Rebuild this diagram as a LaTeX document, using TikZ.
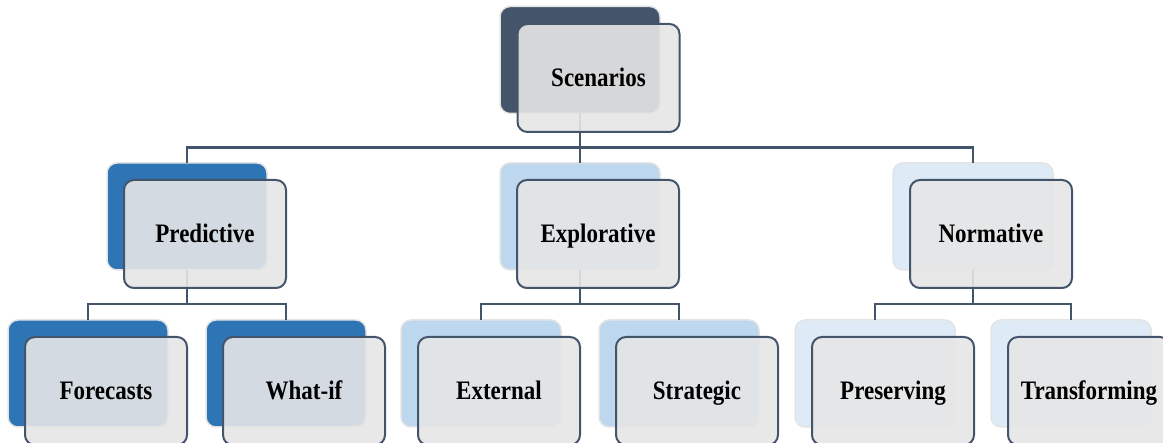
\documentclass[tikz,border=0pt]{standalone}
\usepackage{fontspec}
\setmainfont{Liberation Serif}
\definecolor{slate}{HTML}{44546A}
\definecolor{blueA}{HTML}{2E75B6}
\definecolor{blueB}{HTML}{BDD7EE}
\definecolor{blueC}{HTML}{DEEBF7}
\definecolor{frontgray}{HTML}{E6E6E6}
\definecolor{backedge}{HTML}{E4E4E4}
\newcommand{\boxlbl}[1]{\raisebox{-8.5pt}[0pt][0pt]{\scalebox{1}[1.16]{#1}}}
\begin{document}
\begin{tikzpicture}[x=1pt,y=-1pt,
  backbox/.style={rectangle, rounded corners=10pt, minimum width=160pt, minimum height=107pt,
    inner sep=0pt, outer sep=0pt, draw=backedge, line width=1.5pt, fill=#1},
  frontbox/.style={rectangle, rounded corners=10pt, minimum width=162pt, minimum height=108pt,
    inner sep=0pt, outer sep=0pt, draw=slate, line width=2pt, fill=frontgray, fill opacity=0.9,
    text opacity=1, font=\bfseries\fontsize{23}{27}\selectfont, align=center},
  conn/.style={draw=slate, line width=2.2pt}]
\useasboundingbox (0,0) rectangle (1163,443);
\clip (0,0) rectangle (1163,443);
% back boxes
\node[backbox=slate] (sB) at (580,60) {};
\node[backbox=blueA] (pB) at (187,216.5) {};
\node[backbox=blueB] (eB) at (580,216.5) {};
\node[backbox=blueC] (nB) at (973,216.5) {};
\node[backbox=blueA] (fB) at (88,373.5) {};
\node[backbox=blueA] (wB) at (286,373.5) {};
\node[backbox=blueB] (xB) at (481,373.5) {};
\node[backbox=blueB] (tB) at (679,373.5) {};
\node[backbox=blueC] (rB) at (875,373.5) {};
\node[backbox=blueC] (mB) at (1071,373.5) {};
% connectors
\draw[conn] (sB.south) -- ++(0,34) coordinate (sj);
\draw[conn] (pB.north) |- (sj) -| (nB.north);
\draw[conn] (sj) -- (eB.north);
\draw[conn] (pB.south) -- ++(0,34) coordinate (pj);
\draw[conn] (fB.north) |- (pj) -| (wB.north);
\draw[conn] (eB.south) -- ++(0,34) coordinate (ej);
\draw[conn] (xB.north) |- (ej) -| (tB.north);
\draw[conn] (nB.south) -- ++(0,34) coordinate (nj);
\draw[conn] (rB.north) |- (nj) -| (mB.north);
% front boxes
\node[frontbox] (s) at ([shift={(18.5,18)}]sB.center) {\boxlbl{Scenarios}};
\node[frontbox] (p) at ([shift={(18,17.5)}]pB.center) {\boxlbl{Predictive}};
\node[frontbox] (e) at ([shift={(18,17.5)}]eB.center) {\boxlbl{Explorative}};
\node[frontbox] (n) at ([shift={(18,17.5)}]nB.center) {\boxlbl{Normative}};
\node[frontbox] (f) at ([shift={(18,17.5)}]fB.center) {\boxlbl{Forecasts}};
\node[frontbox] (w) at ([shift={(18,17.5)}]wB.center) {\boxlbl{What-if}};
\node[frontbox] (x) at ([shift={(18,17.5)}]xB.center) {\boxlbl{External}};
\node[frontbox] (t) at ([shift={(18,17.5)}]tB.center) {\boxlbl{Strategic}};
\node[frontbox] (r) at ([shift={(18,17.5)}]rB.center) {\boxlbl{Preserving}};
\node[frontbox] (m) at ([shift={(18,17.5)}]mB.center) {\boxlbl{Transforming}};
\end{tikzpicture}
\end{document}
